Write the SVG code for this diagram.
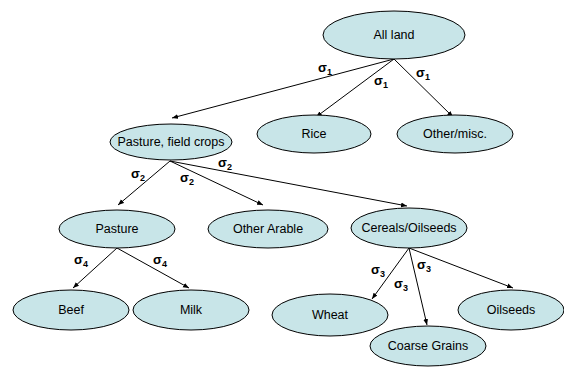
<svg xmlns="http://www.w3.org/2000/svg" width="564" height="367" viewBox="0 0 564 367">
<style>
.n ellipse{fill:#c8e5e8;stroke:#000;stroke-width:1}
.n text{font-family:"Liberation Sans",Arial,sans-serif;font-size:12.5px;text-anchor:middle;fill:#000}
.c line{stroke:#000;stroke-width:1;marker-end:url(#a)}
.l text{font-family:"Liberation Sans",Arial,sans-serif;font-size:13px;font-weight:bold;fill:#000}
.l tspan.s{font-size:9px}
</style>
<defs>
<marker id="a" viewBox="0 0 10 10" refX="10" refY="5" markerWidth="6" markerHeight="6" orient="auto" markerUnits="userSpaceOnUse">
<path d="M0,1 L10,5 L0,9 z" fill="#000"/>
</marker>
</defs>
<rect width="564" height="367" fill="#fff"/>
<g class="c">
<line x1="394" y1="59" x2="172" y2="118"/>
<line x1="394" y1="59" x2="316" y2="117"/>
<line x1="394" y1="59" x2="453" y2="117"/>
<line x1="170" y1="161" x2="118" y2="205"/>
<line x1="170" y1="161" x2="263" y2="205"/>
<line x1="170" y1="161" x2="407" y2="206"/>
<line x1="117" y1="248" x2="73" y2="288"/>
<line x1="117" y1="248" x2="189" y2="288"/>
<line x1="409" y1="248" x2="372" y2="299"/>
<line x1="409" y1="248" x2="427" y2="325"/>
<line x1="409" y1="248" x2="513" y2="288"/>
</g>
<g class="l">
<text x="318" y="72">σ<tspan class="s" dy="3">1</tspan></text>
<text x="374" y="85">σ<tspan class="s" dy="3">1</tspan></text>
<text x="416" y="77">σ<tspan class="s" dy="3">1</tspan></text>
<text x="131" y="178">σ<tspan class="s" dy="3">2</tspan></text>
<text x="180" y="182">σ<tspan class="s" dy="3">2</tspan></text>
<text x="218" y="167">σ<tspan class="s" dy="3">2</tspan></text>
<text x="74" y="264">σ<tspan class="s" dy="3">4</tspan></text>
<text x="153" y="264">σ<tspan class="s" dy="3">4</tspan></text>
<text x="371" y="274">σ<tspan class="s" dy="3">3</tspan></text>
<text x="394" y="288">σ<tspan class="s" dy="3">3</tspan></text>
<text x="417" y="269">σ<tspan class="s" dy="3">3</tspan></text>
</g>
<g id="all-land" class="n"><ellipse cx="394" cy="35" rx="71" ry="24"/><text x="394" y="39">All land</text></g>
<g id="pasture-field-crops" class="n"><ellipse cx="171" cy="142" rx="61" ry="18"/><text x="171" y="146">Pasture, field crops</text></g>
<g id="rice" class="n"><ellipse cx="314" cy="134" rx="57" ry="19"/><text x="314" y="138">Rice</text></g>
<g id="other-misc" class="n"><ellipse cx="455" cy="134" rx="58" ry="19"/><text x="455" y="138">Other/misc.</text></g>
<g id="pasture" class="n"><ellipse cx="117" cy="229" rx="58" ry="19"/><text x="117" y="233">Pasture</text></g>
<g id="other-arable" class="n"><ellipse cx="268" cy="229" rx="60" ry="19"/><text x="268" y="233">Other Arable</text></g>
<g id="cereals-oilseeds" class="n"><ellipse cx="409" cy="228" rx="58" ry="20"/><text x="409" y="232">Cereals/Oilseeds</text></g>
<g id="beef" class="n"><ellipse cx="71" cy="310" rx="58" ry="20"/><text x="71" y="314">Beef</text></g>
<g id="milk" class="n"><ellipse cx="191" cy="310" rx="58" ry="20"/><text x="191" y="314">Milk</text></g>
<g id="wheat" class="n"><ellipse cx="330" cy="315" rx="58" ry="21"/><text x="330" y="319">Wheat</text></g>
<g id="coarse-grains" class="n"><ellipse cx="428" cy="346" rx="58" ry="20"/><text x="428" y="350">Coarse Grains</text></g>
<g id="oilseeds" class="n"><ellipse cx="511" cy="310" rx="53" ry="20"/><text x="511" y="314">Oilseeds</text></g>
</svg>
